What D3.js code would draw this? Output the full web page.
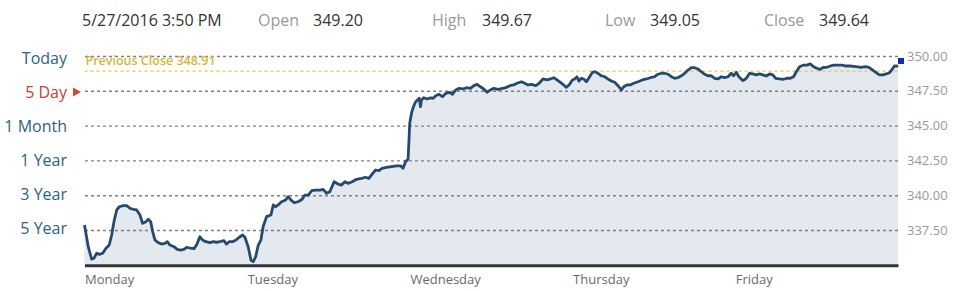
<!DOCTYPE html>
<html>
<head>
<meta charset="utf-8">
<script src="https://cdn.jsdelivr.net/npm/d3@7"></script>
<style>
  body { margin: 0; background: #fff; }
  svg { display: block; font-family: "Open Sans", sans-serif; }
</style>
</head>
<body>
<div id="chart"></div>
<script>
// quote header
const quoteTime = "5/27/2016 3:50 PM"
const quoteLabels = ["Open", "High", "Low", "Close"]
const quoteValues = ["349.20", "349.67", "349.05", "349.64"]

const rangeButtons = ["Today", "5 Day", "1 Month", "1 Year", "3 Year", "5 Year"]
const activeRange = "5 Day"
const dayNames = ["Monday", "Tuesday", "Wednesday", "Thursday", "Friday"]
const yTicks = [337.5, 340, 342.5, 345, 347.5, 350]
const prevClose = 348.91
const lastClose = 349.64

// [fraction of session, price] per day
const monday = [[0.000,337.86],[0.023,336.30],[0.044,335.40],[0.058,335.47],[0.075,335.83],[0.091,335.75],[0.112,335.83],[0.132,336.19],[0.152,336.42],[0.167,337.14],
  [0.181,338.10],[0.198,338.94],[0.214,339.17],[0.238,339.25],[0.259,339.25],[0.279,339.06],[0.300,338.99],[0.321,338.94],[0.341,338.58],[0.357,337.98],
  [0.378,338.10],[0.392,338.27],[0.407,338.10],[0.419,337.38],[0.433,336.78],[0.453,336.59],[0.474,336.49],[0.494,336.54],[0.509,336.66],[0.525,336.42],
  [0.550,336.30],[0.570,336.11],[0.591,336.06],[0.611,336.11],[0.628,336.26],[0.652,336.19],[0.673,336.16],[0.689,336.42],[0.709,337.02],[0.726,336.78],
  [0.746,336.66],[0.771,336.59],[0.791,336.66],[0.812,336.62],[0.832,336.66],[0.857,336.73],[0.873,336.49],[0.889,336.66],[0.910,336.66],[0.931,336.78],
  [0.951,336.98],[0.972,337.14],[0.986,336.98]]
const tuesday = [[0.006,336.30],[0.023,335.34],[0.037,335.22],[0.052,335.58],[0.068,336.42],[0.084,336.78],[0.098,337.74],[0.119,338.46],[0.146,338.58],[0.160,339.30],
  [0.174,339.17],[0.190,339.30],[0.211,339.53],[0.236,339.66],[0.252,339.89],[0.268,339.66],[0.289,339.46],[0.313,339.53],[0.338,339.71],[0.354,340.01],
  [0.375,340.01],[0.396,340.32],[0.420,340.37],[0.447,340.37],[0.467,340.42],[0.488,340.14],[0.508,340.25],[0.534,340.97],[0.559,340.80],[0.580,340.73],
  [0.600,340.97],[0.620,340.85],[0.645,340.97],[0.672,341.14],[0.703,341.21],[0.727,341.29],[0.748,341.21],[0.768,341.52],[0.789,341.81],[0.809,341.76],
  [0.829,341.93],[0.856,342.00],[0.887,342.05],[0.918,342.10],[0.944,342.10],[0.958,341.93],[0.973,342.41],[0.989,342.58],[0.999,345.17]]
const wednesday = [[0.010,345.88],[0.015,346.12],[0.026,346.48],[0.036,346.72],[0.057,346.96],[0.065,346.36],[0.071,346.84],[0.085,347.00],[0.106,346.91],[0.127,347.00],
  [0.143,346.96],[0.159,347.15],[0.179,347.25],[0.200,347.08],[0.221,347.32],[0.241,347.39],[0.262,347.25],[0.282,347.56],[0.302,347.68],[0.327,347.63],
  [0.348,347.72],[0.372,347.68],[0.393,347.87],[0.413,347.97],[0.434,347.79],[0.454,347.63],[0.474,347.39],[0.495,347.56],[0.515,347.68],[0.542,347.61],
  [0.569,347.68],[0.589,347.72],[0.614,347.87],[0.638,347.92],[0.658,348.04],[0.686,348.15],[0.706,348.04],[0.726,347.92],[0.747,347.97],[0.773,347.87],
  [0.794,348.04],[0.818,348.35],[0.843,348.28],[0.864,348.35],[0.884,348.44],[0.904,348.28],[0.925,348.11],[0.945,347.92],[0.962,347.75],[0.978,347.92],[0.999,348.28]]
const thursday = [[0.013,348.35],[0.027,348.51],[0.039,348.20],[0.054,348.40],[0.068,348.35],[0.085,348.15],[0.101,348.44],[0.122,348.83],[0.136,348.87],[0.156,348.76],
  [0.177,348.58],[0.197,348.51],[0.217,348.35],[0.238,348.20],[0.259,348.11],[0.279,347.87],[0.300,347.56],[0.314,347.79],[0.334,347.92],[0.355,347.92],
  [0.375,348.04],[0.402,348.15],[0.429,348.28],[0.453,348.35],[0.478,348.44],[0.504,348.51],[0.525,348.69],[0.545,348.76],[0.566,348.76],[0.586,348.69],
  [0.607,348.51],[0.627,348.40],[0.647,348.44],[0.668,348.58],[0.689,348.76],[0.709,348.99],[0.730,349.16],[0.750,349.16],[0.770,349.07],[0.791,348.87],
  [0.811,348.69],[0.832,348.58],[0.853,348.58],[0.873,348.40],[0.893,348.35],[0.914,348.51],[0.934,348.44],[0.955,348.51],[0.975,348.76],[0.990,348.58]]
const friday = [[0.006,348.83],[0.022,348.51],[0.047,348.23],[0.068,348.40],[0.088,348.76],[0.108,348.71],[0.129,348.64],[0.149,348.71],[0.170,348.64],[0.190,348.56],
  [0.211,348.71],[0.231,348.64],[0.248,348.40],[0.272,348.35],[0.297,348.33],[0.317,348.40],[0.338,348.40],[0.358,348.51],[0.375,348.87],[0.395,349.23],
  [0.420,349.35],[0.440,349.35],[0.461,349.43],[0.481,349.23],[0.501,349.12],[0.522,349.04],[0.542,349.19],[0.563,349.19],[0.584,349.28],[0.604,349.35],
  [0.630,349.35],[0.657,349.35],[0.682,349.28],[0.713,349.28],[0.743,349.23],[0.774,349.19],[0.800,349.23],[0.821,349.19],[0.845,348.99],[0.866,348.80],
  [0.886,348.64],[0.907,348.64],[0.927,348.71],[0.948,348.80],[0.964,349.04],[0.978,349.28],[0.993,349.28],[1.000,349.32]]

const W = 953, H = 291
const plotL = 84.5, plotR = 898, plotT = 56, plotB = 264.8

const svg = d3.select("#chart").append("svg")
    .attr("width", W)
    .attr("height", H)

const points = [monday, tuesday, wednesday, thursday, friday]
    .flatMap((day, i) => day.map(d => ({ t: i + d[0], p: d[1] })))

const x = d3.scaleLinear().domain([0, 5]).range([plotL, plotR])
const y = d3.scaleLinear().domain([335, 350]).range([plotB, plotT])

// area under the price
svg.append("path")
    .datum(points)
    .attr("fill", "#e3e9ef")
    .attr("d", d3.area().x(d => x(d.t)).y0(y(335)).y1(d => y(d.p)))

// dotted grid + right labels
const yAxis = svg.append("g")
    .attr("transform", `translate(${plotR},0)`)
    .call(d3.axisRight(y).tickValues(yTicks).tickFormat(d3.format(".2f"))
        .tickSize(-(plotR - plotL)).tickPadding(9))
yAxis.select(".domain").remove()
yAxis.selectAll("line")
    .attr("stroke", "#808080")
    .attr("stroke-width", 1.4)
    .attr("stroke-dasharray", "3,3")
yAxis.selectAll("text")
    .attr("fill", "#9a9a9a")
    .style("font-size", "13px")
    .style("font-family", "Open Sans")

// previous close
svg.append("line")
    .attr("x1", plotL).attr("x2", plotR)
    .attr("y1", y(prevClose)).attr("y2", y(prevClose))
    .attr("stroke", "#e5c64a")
    .attr("stroke-width", 1.4)
    .attr("stroke-dasharray", "3,3")
svg.append("text")
    .attr("x", plotL + 1)
    .attr("y", y(prevClose) - 6.5)
    .attr("fill", "#d6b63a")
    .style("font-size", "12.5px")
    .style("font-weight", 600)
    .text("Previous Close " + prevClose.toFixed(2))

// price line
svg.append("path")
    .datum(points)
    .attr("fill", "none")
    .attr("stroke", "#264a6e")
    .attr("stroke-width", 2.8)
    .attr("stroke-linejoin", "round")
    .attr("d", d3.line().x(d => x(d.t)).y(d => y(d.p)))

// last price marker
svg.append("rect")
    .attr("x", x(5))
    .attr("y", y(lastClose) - 3)
    .attr("width", 6).attr("height", 6)
    .attr("fill", "#1428b8")

// day axis
const xAxis = svg.append("g")
    .attr("transform", `translate(0,${plotB + 0.5})`)
    .call(d3.axisBottom(x).tickValues([0, 1, 2, 3, 4])
        .tickFormat(i => dayNames[i]).tickSize(0).tickPadding(9))
xAxis.select(".domain")
    .attr("stroke", "#333")
    .attr("stroke-width", 3)
xAxis.selectAll("text")
    .attr("text-anchor", "start")
    .attr("fill", "#6a6a6a")
    .style("font-size", "13px")
    .style("font-family", "Open Sans")

// range buttons on the left
const rangeY = d3.scalePoint().domain(rangeButtons).range([y(350) + 2, y(337.5) - 2])
svg.selectAll(".range")
    .data(rangeButtons)
    .enter()
    .append("text")
    .attr("class", "range")
    .attr("x", 67)
    .attr("y", d => rangeY(d))
    .attr("dy", "0.35em")
    .attr("text-anchor", "end")
    .attr("fill", d => d === activeRange ? "#c8402e" : "#2e6282")
    .style("font-size", "16px")
    .text(d => d)
const ay = rangeY(activeRange)
svg.append("path")
    .attr("d", `M73,${ay - 4.5}L81,${ay}L73,${ay + 4.5}Z`)
    .attr("fill", "#cc4b37")

// header
const hy = 26
svg.append("text")
    .attr("x", 82).attr("y", hy)
    .attr("fill", "#333")
    .style("font-size", "16px")
    .text(quoteTime)
const labelX = [258, 432, 605, 764]
const valueX = [313, 482, 650, 819]
quoteLabels.forEach((l, i) => {
    svg.append("text")
        .attr("x", labelX[i]).attr("y", hy)
        .attr("fill", "#999")
        .style("font-size", "16px")
        .text(l)
    svg.append("text")
        .attr("x", valueX[i]).attr("y", hy)
        .attr("fill", "#333")
        .style("font-size", "16px")
        .text(quoteValues[i])
})
</script>
</body>
</html>
